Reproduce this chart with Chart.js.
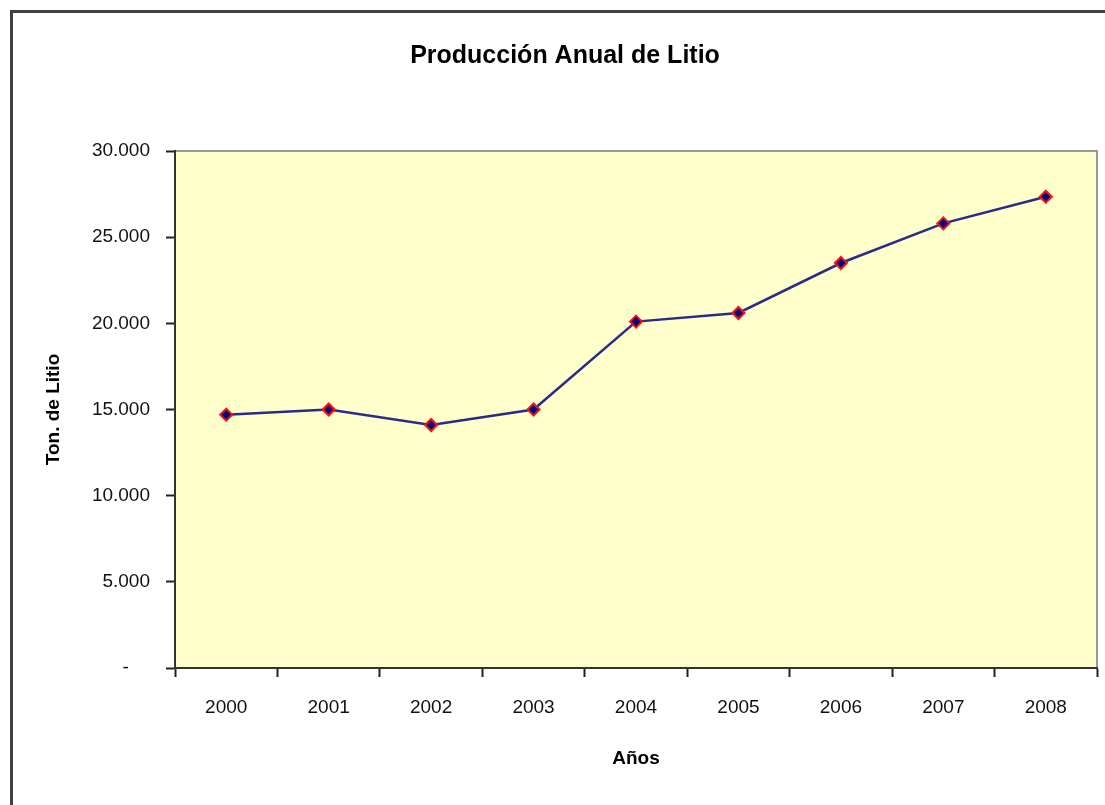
<!DOCTYPE html>
<html>
<head>
<meta charset="utf-8">
<script src="https://cdn.jsdelivr.net/npm/chart.js@4/dist/chart.umd.min.js"></script>
<style>
  html, body { margin: 0; padding: 0; background: #ffffff; }
  #wrap { width: 1105px; height: 805px; position: relative; }
</style>
</head>
<body>
<div id="wrap"><canvas id="c" width="1105" height="805"></canvas></div>
<script>
const chartTitle = 'Producción Anual de Litio';
const xTitle = 'Años';
const yTitle = 'Ton. de Litio';
const years = ['2000', '2001', '2002', '2003', '2004', '2005', '2006', '2007', '2008'];
const production = [14700, 15000, 14100, 15000, 20100, 20600, 23500, 25800, 27350];
const yTickValues = [0, 5000, 10000, 15000, 20000, 25000, 30000];

const narrow = "'Liberation Sans Narrow', 'Arial Narrow', 'Liberation Sans', Arial, sans-serif";
const sans = "'Liberation Sans', Arial, sans-serif";

const framePlugin = {
  id: 'frame',
  beforeDraw(chart) {
    const { ctx, chartArea: a } = chart;
    ctx.save();
    ctx.fillStyle = '#ffffff';
    ctx.fillRect(0, 0, chart.width, chart.height);
    ctx.strokeStyle = '#404040';
    ctx.lineWidth = 3;
    ctx.beginPath();
    ctx.moveTo(11.5, chart.height + 5);
    ctx.lineTo(11.5, 11.5);
    ctx.lineTo(chart.width + 5, 11.5);
    ctx.stroke();
    ctx.fillStyle = '#FFFFCC';
    ctx.fillRect(a.left, a.top, a.right - a.left, a.bottom - a.top);
    ctx.strokeStyle = '#9a9a9a';
    ctx.lineWidth = 2;
    ctx.beginPath();
    ctx.moveTo(a.left, a.top);
    ctx.lineTo(a.right, a.top);
    ctx.lineTo(a.right, a.bottom);
    ctx.stroke();
    ctx.restore();
  }
};

new Chart(document.getElementById('c'), {
  type: 'line',
  data: {
    labels: years,
    datasets: [{
      data: production,
      borderColor: '#2a2a88',
      borderWidth: 2.5,
      tension: 0,
      pointStyle: 'rectRot',
      pointRadius: 6,
      pointBackgroundColor: '#000080',
      pointBorderColor: '#ff1010',
      pointBorderWidth: 2,
      fill: false
    }]
  },
  options: {
    responsive: false,
    animation: false,
    layout: { padding: { left: 30, right: 5, top: 41, bottom: 0 } },
    plugins: {
      legend: { display: false },
      tooltip: { enabled: false },
      title: {
        display: true,
        text: chartTitle,
        color: '#000000',
        font: { family: sans, size: 25, weight: 'bold', lineHeight: 1.2 },
        padding: { top: 0, bottom: 80 }
      }
    },
    scales: {
      x: {
        type: 'category',
        offset: true,
        afterFit(scale) { scale.height = 137; },
        grid: {
          offset: true,
          drawOnChartArea: false,
          drawTicks: true,
          tickLength: 9,
          tickColor: '#222222',
          tickWidth: 2
        },
        border: { display: true, color: '#333333', width: 2 },
        ticks: {
          color: '#111111',
          padding: 19,
          font: { family: narrow, size: 19 }
        },
        title: {
          display: true,
          text: xTitle,
          color: '#000000',
          font: { family: sans, size: 19, weight: 'bold', lineHeight: 1.2 },
          padding: { top: 0, bottom: 34.6 }
        }
      },
      y: {
        min: 0,
        max: 30000,
        afterFit(scale) { scale.width = 145; },
        afterBuildTicks(scale) { scale.ticks = yTickValues.map(v => ({ value: v })); },
        grid: {
          drawOnChartArea: false,
          drawTicks: true,
          tickLength: 9,
          tickColor: '#222222',
          tickWidth: 2
        },
        border: { display: true, color: '#333333', width: 2 },
        ticks: {
          color: '#111111',
          padding: 16,
          font: { family: narrow, size: 19 },
          callback(value) {
            if (value === 0) return '-    ';
            return String(value).replace(/\B(?=(\d{3})+(?!\d))/g, '.');
          }
        },
        title: {
          display: true,
          text: yTitle,
          color: '#000000',
          font: { family: sans, size: 19, weight: 'bold', lineHeight: 1.2 },
          padding: { top: 12.6, bottom: 0 }
        }
      }
    }
  },
  plugins: [framePlugin]
});
</script>
</body>
</html>
